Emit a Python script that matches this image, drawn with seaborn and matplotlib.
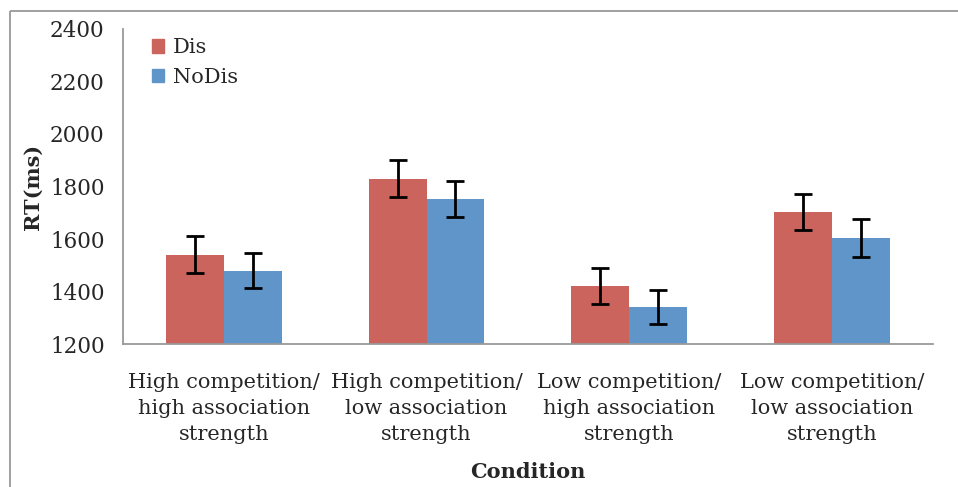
import numpy as np
import pandas as pd
import matplotlib.pyplot as plt
import seaborn as sns
from matplotlib.lines import Line2D
from matplotlib.patches import Patch

# data
conditions = ["High competition/\nhigh association\nstrength",
              "High competition/\nlow association\nstrength",
              "Low competition/\nhigh association\nstrength",
              "Low competition/\nlow association\nstrength"]
dis_rt = [1540, 1830, 1421, 1703]
nodis_rt = [1479, 1752, 1341, 1604]
dis_err = [70, 70, 67, 70]
nodis_err = [67, 68, 65, 72]
groups = ["Dis", "NoDis"]
colors = ["#CC645E", "#5F95C8"]

df = pd.DataFrame({
    "condition": conditions * 2,
    "group": ["Dis"] * 4 + ["NoDis"] * 4,
    "rt": dis_rt + nodis_rt,
    "err": dis_err + nodis_err,
})

sns.set_style("white")
plt.rcParams['font.family'] = ['DejaVu Serif']

fig = plt.figure(figsize=(9.58, 4.87), dpi=100)
ax = fig.add_axes([0.128, 0.2936, 0.846, 0.6469])

sns.barplot(data=df, x="condition", y="rt", hue="group", order=conditions,
            hue_order=groups, palette=colors, width=0.57, errorbar=None,
            saturation=1, linewidth=0, ax=ax, legend=False)

# error bars at the bar centres
for container, g in zip(ax.containers, groups):
    sub = df[df["group"] == g]
    xs = [b.get_x() + b.get_width() / 2 for b in container]
    ax.errorbar(xs, sub["rt"], yerr=sub["err"], fmt="none", ecolor="black",
                elinewidth=2, capsize=6.5, capthick=2)

ax.set_ylim(1200, 2400)
ax.set_xlim(-0.5, 3.5)
ax.set_yticks(np.arange(1200, 2401, 200))
ax.set_xticks(np.arange(-0.5, 3.6, 1))
ax.set_xticklabels([])
ax.set_xticks(range(4), minor=True)
ax.set_xticklabels(conditions, minor=True, fontsize=15, linespacing=1.45)
ax.tick_params(axis="x", which="minor", length=0, pad=21)
ax.tick_params(axis="x", which="major", direction="out", length=6, color="#999999", width=1.3)
ax.tick_params(axis="y", direction="out", length=6, color="#999999", width=1.3,
               labelsize=15.5, pad=7)

sns.despine(ax=ax)
for side in ["left", "bottom"]:
    ax.spines[side].set_color("#999999")
    ax.spines[side].set_linewidth(1.3)

ax.set_ylabel("RT(ms)", fontsize=15, fontweight="bold", labelpad=5)
ax.set_xlabel("Condition", fontsize=15, fontweight="bold", labelpad=13)

handles = [Patch(color=c, label=g) for c, g in zip(colors, groups)]
ax.legend(handles=handles, loc="upper left", bbox_to_anchor=(0.013, 1.03),
          frameon=False, fontsize=15, handlelength=0.6, handleheight=0.6,
          handletextpad=0.4, labelspacing=0.5)

# outer chart border (top and left visible)
fig.add_artist(Line2D([10 / 958, 10 / 958], [0, 1 - 11 / 487], color="#999999",
                      lw=1.3, solid_capstyle="butt"))
fig.add_artist(Line2D([10 / 958, 1.02], [1 - 11 / 487, 1 - 11 / 487], color="#999999",
                      lw=1.3, solid_capstyle="butt"))

fig.savefig("out.png", dpi=100)
